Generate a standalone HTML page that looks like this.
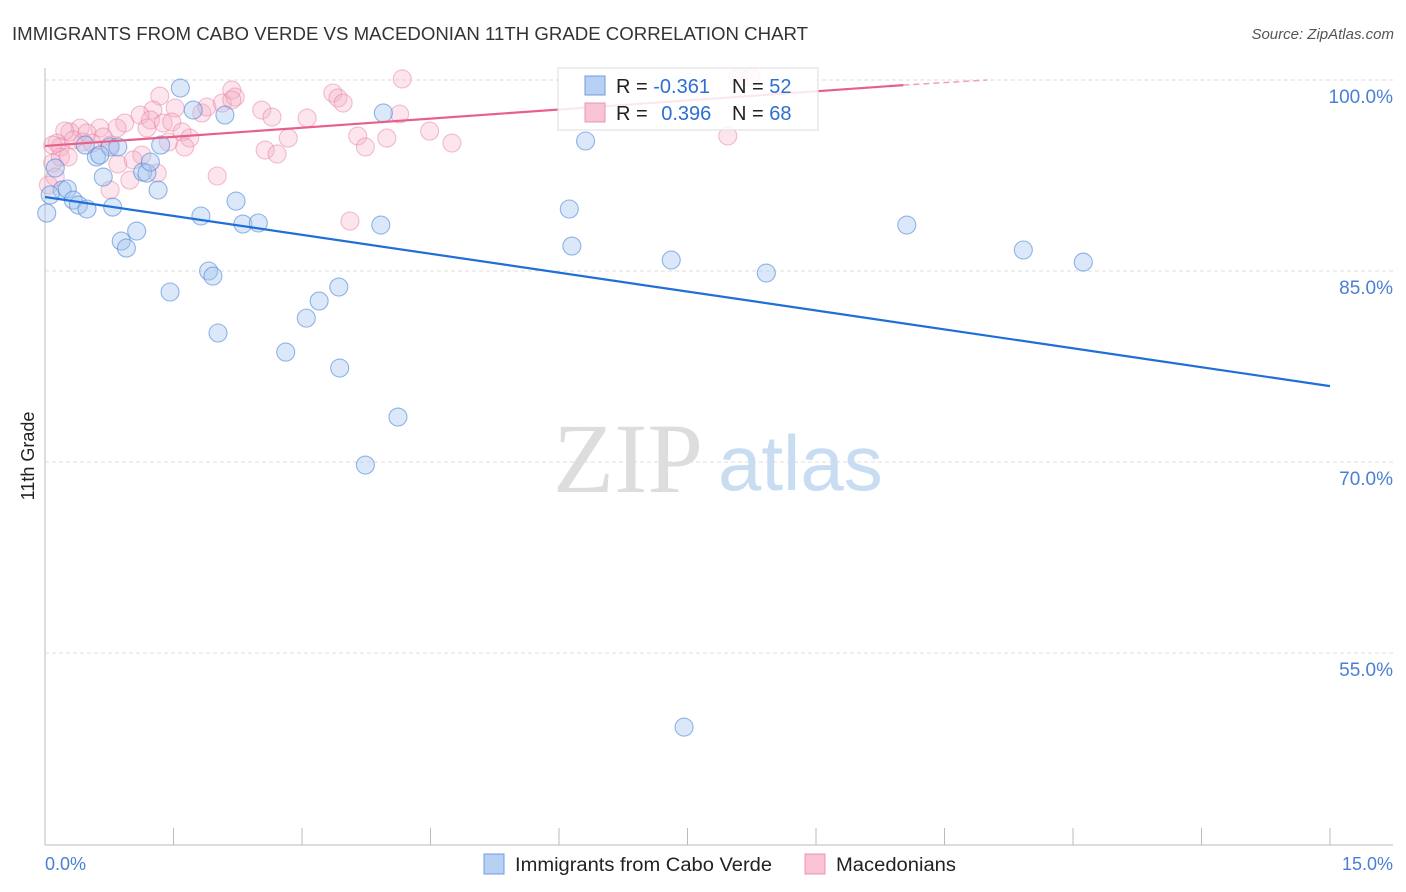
<!DOCTYPE html>
<html><head><meta charset="utf-8"><style>
body{margin:0;background:#fff;font-family:"Liberation Sans",sans-serif}
svg{display:block}
</style></head><body>
<svg id="chart" width="1406" height="892">
<text x="12" y="40" font-size="18" fill="#333" textLength="796" lengthAdjust="spacingAndGlyphs">IMMIGRANTS FROM CABO VERDE VS MACEDONIAN 11TH GRADE CORRELATION CHART</text>
<text x="1394" y="39" font-size="15" fill="#555" font-style="italic" text-anchor="end">Source: ZipAtlas.com</text>
<text x="34" y="456" font-size="18" fill="#222" transform="rotate(-90 34 456)" text-anchor="middle">11th Grade</text>
<g><text x="553" y="492" font-size="100" font-family="Liberation Serif,serif" fill="#ddd">ZIP</text><text x="718" y="490" font-size="78" fill="#c8dcf2">atlas</text></g>
<g id="grid"></g><g id="pts"></g><g id="lines"></g>
<g>
<rect x="558" y="68" width="260" height="62" fill="#fff" fill-opacity="0.85" stroke="#ddd"/>
<rect x="585" y="76" width="20" height="19" fill="#b7d0f3" stroke="#6f9ee0"/>
<rect x="585" y="103" width="20" height="19" fill="#f8c3d3" stroke="#ec95b0"/>
<text x="616" y="93" font-size="20" fill="#222">R = <tspan fill="#2d6fd3">-0.361</tspan></text>
<text x="732" y="93" font-size="20" fill="#222">N = <tspan fill="#2d6fd3">52</tspan></text>
<text x="616" y="120" font-size="20" fill="#222">R = <tspan fill="#2d6fd3" dx="8">0.396</tspan></text>
<text x="732" y="120" font-size="20" fill="#222">N = <tspan fill="#2d6fd3">68</tspan></text>
</g>
<g>
<rect x="484" y="854" width="20" height="20" fill="#b7d0f3" stroke="#6f9ee0"/>
<text x="515" y="871" font-size="19" fill="#222" textLength="257" lengthAdjust="spacingAndGlyphs">Immigrants from Cabo Verde</text>
<rect x="805" y="854" width="20" height="20" fill="#f8c3d3" stroke="#ec95b0"/>
<text x="836" y="871" font-size="19" fill="#222" textLength="120" lengthAdjust="spacingAndGlyphs">Macedonians</text>
</g>
<text x="45" y="870" font-size="18" fill="#4a7fd4">0.0%</text>
<text x="1393" y="870" font-size="18" fill="#4a7fd4" text-anchor="end">15.0%</text>
</svg>
<script>
const yTicks=[100,85,70,55];
const xTicks=[0,1.5,3,4.5,6,7.5,9,10.5,12,13.5,15];
const blueX=[1.58,1.73,2.10,3.95,6.31,0.12,0.20,0.26,0.33,0.39,0.49,0.60,0.68,0.79,0.76,0.85,0.89,0.95,1.07,1.14,1.19,1.23,1.32,1.35,1.46,1.82,1.91,1.96,2.02,2.23,2.31,2.49,2.81,3.05,3.20,3.43,3.44,3.74,3.92,4.12,6.12,6.15,7.31,7.46,8.42,10.06,11.42,12.12,0.02,0.06,0.47,0.64];
const blueY=[99.37,97.64,97.25,97.41,95.21,93.09,91.36,91.44,90.57,90.18,89.87,93.95,92.38,90.02,94.74,94.74,87.35,86.80,88.14,92.77,92.69,93.56,91.36,94.89,83.35,89.32,85.00,84.60,80.13,90.49,88.69,88.77,78.63,81.30,82.64,83.74,77.38,69.76,88.61,73.53,89.87,86.96,85.86,49.18,84.84,88.61,86.65,85.70,89.55,90.97,94.89,94.11];
const pinkX=[1.34,1.52,1.26,1.11,0.93,0.84,0.64,0.41,0.29,0.23,0.49,0.68,0.14,0.18,0.44,0.55,0.76,1.23,1.19,1.38,1.48,1.60,1.69,1.63,1.44,1.83,1.89,2.07,2.18,2.22,2.53,2.65,3.06,2.84,2.57,2.71,3.36,3.42,3.48,3.65,3.74,3.99,4.17,4.14,4.49,4.75,3.56,2.01,0.99,0.85,1.13,1.03,1.31,0.76,0.09,0.12,0.18,0.27,0.33,0.09,8.09,8.24,7.97,0.04,2.18];
const pinkY=[98.74,97.80,97.64,97.25,96.62,96.23,96.23,96.23,95.92,95.99,95.84,95.52,95.05,94.74,95.13,95.05,94.89,96.86,96.23,96.62,96.70,95.92,95.44,94.74,95.13,97.41,97.88,98.19,99.21,98.66,97.64,97.09,97.01,95.44,94.50,94.19,98.98,98.59,98.19,95.60,94.74,95.44,100.08,97.33,95.99,95.05,88.92,92.46,92.14,93.40,94.11,93.72,92.69,91.36,93.48,92.38,93.95,93.95,95.29,94.89,100.24,100.24,95.60,91.75,98.43];
const blueTrend=[[0,90.81],[15,75.96]];
const pinkTrend=[[0,94.82],[10.02,99.6]];
const pinkDash=[[10.02,99.6],[11.0,100.0]];
const X=v=>45+v*(1285/15), Y=v=>80+(100-v)*(191/15);
const NS="http://www.w3.org/2000/svg";
function mk(tag,attrs,parent){const e=document.createElementNS(NS,tag);for(const k in attrs)e.setAttribute(k,attrs[k]);parent.appendChild(e);return e;}
const grid=document.getElementById('grid');
let ax=mk('line',{x1:45,y1:68,x2:45,y2:845,stroke:'#bbb'},grid);


let bx=mk('line',{x1:45,y1:845,x2:1393,y2:845,stroke:'#bbb'},grid);


yTicks.forEach(t=>{
 const g=mk('line',{x1:45,x2:1393,y1:Y(t),y2:Y(t),stroke:'#ddd','stroke-dasharray':'4,3'},grid);
 
 
 const l=mk('text',{x:1393,y:Y(t)+23,'font-size':19,fill:'#4a7fd4','text-anchor':'end'},grid);
 l.textContent=t.toFixed(1)+'%';
 
 
});
xTicks.forEach(t=>{
 const k=mk('line',{x1:X(t),x2:X(t),y1:828,y2:845,stroke:'#bbb'},grid);
 
 
});
const pts=document.getElementById('pts');
pinkX.forEach((x,i)=>{
 const c=mk('circle',{cx:X(x),cy:Y(pinkY[i]),r:9,fill:'rgba(247,175,198,0.32)',stroke:'rgba(232,130,160,0.5)','stroke-width':1.1},pts);
 
 
});
blueX.forEach((x,i)=>{
 const c=mk('circle',{cx:X(x),cy:Y(blueY[i]),r:9,fill:'rgba(165,198,240,0.4)',stroke:'rgba(80,135,215,0.6)','stroke-width':1.1},pts);
 
 
});
const lines=document.getElementById('lines');
let bl=mk('line',{x1:X(blueTrend[0][0]),y1:Y(blueTrend[0][1]),x2:X(blueTrend[1][0]),y2:Y(blueTrend[1][1]),stroke:'#1f6fd6','stroke-width':2.2},lines);


let pl=mk('line',{x1:X(pinkTrend[0][0]),y1:Y(pinkTrend[0][1]),x2:X(pinkTrend[1][0]),y2:Y(pinkTrend[1][1]),stroke:'#e8608a','stroke-width':2.2},lines);


let pd=mk('line',{x1:X(pinkDash[0][0]),y1:Y(pinkDash[0][1]),x2:X(pinkDash[1][0]),y2:Y(pinkDash[1][1]),stroke:'#f0a0b8','stroke-width':1.5,'stroke-dasharray':'6,4'},lines);


</script>
</body></html>
